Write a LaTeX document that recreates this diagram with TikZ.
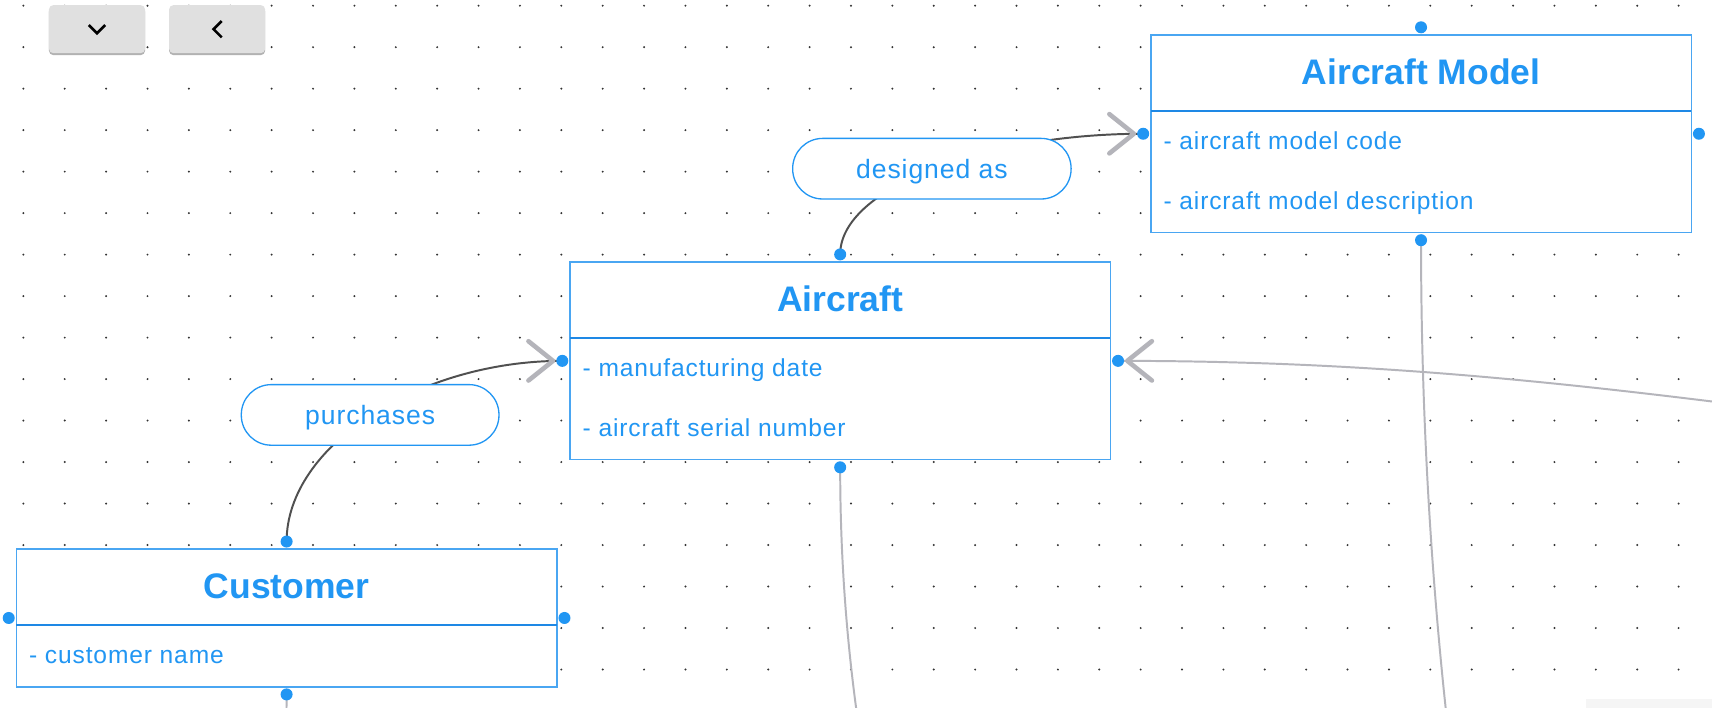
\documentclass[tikz,border=0pt]{standalone}
\usepackage{fontspec}
\setmainfont{Liberation Sans}
\newfontfamily\spacedfont[LetterSpace=3.5]{Liberation Sans}
\usetikzlibrary{shadows}
\definecolor{mblue}{HTML}{2196F3}
\definecolor{bordblue}{HTML}{4AA6F2}
\definecolor{divblue}{HTML}{1E88E5}
\definecolor{darkline}{HTML}{505050}
\definecolor{lightline}{HTML}{B5B5BB}
\definecolor{chevgray}{HTML}{B4B4BA}
\definecolor{btngray}{HTML}{E0E0E0}
\definecolor{griddot}{HTML}{333333}
\definecolor{cornergray}{HTML}{F5F5F5}
\pgfdeclarelayer{bg}
\pgfdeclarelayer{lines}
\pgfsetlayers{bg,lines,main}
\begin{document}
\begin{tikzpicture}[x=1pt,y=-1pt,
  entity/.style={draw=bordblue,line width=1.4pt,fill=white,rectangle,inner sep=0pt,outer sep=0pt,minimum width=495pt},
  divider/.style={draw=divblue,line width=1.4pt},
  title/.style={text=mblue,font=\bfseries\fontsize{32.5}{39}\selectfont,inner sep=0pt,anchor=base},
  attr/.style={text=mblue,font=\spacedfont\fontsize{22.5}{27}\selectfont,inner sep=0pt,anchor=base west},
  pill/.style={draw=mblue,line width=1.2pt,fill=white,rectangle,rounded corners=27.5pt,minimum height=55.5pt,inner sep=0pt,text=mblue,font=\spacedfont\fontsize{24.3}{29}\selectfont,text height=18pt,text depth=0pt},
  port/.style={circle,fill=mblue,inner sep=0pt,minimum size=11pt},
  rel/.style={draw=darkline,line width=1.8pt},
  ghost/.style={draw=lightline,line width=1.8pt},
  chev/.style={draw=chevgray,line width=4.2pt,line cap=round,line join=round},
  btn/.style={fill=btngray,rectangle,rounded corners=4pt,minimum width=88pt,minimum height=44pt,inner sep=0pt,drop shadow={shadow xshift=0pt,shadow yshift=-1.8pt,opacity=0.3,fill=black}},
  icon/.style={draw=black,line width=2.4pt}
]
\useasboundingbox (0,0) rectangle (1568,648.4);

% background and dot grid
\begin{pgfonlayer}{bg}
  \fill[white] (0,0) rectangle (1568,648.4);
  \foreach \i in {0,...,40}{\foreach \j in {0,...,16}{
    \fill[griddot] ({21.4+37.9*\i},{5.2+38*\j}) circle (1pt);}}
\end{pgfonlayer}

% toolbar buttons
\node[btn] (btn-down) at (88.85,26.7) {};
\draw[icon] ([xshift=-7.5pt,yshift=3.7pt]btn-down.center) -- ([yshift=-3.8pt]btn-down.center) -- ([xshift=7.5pt,yshift=3.7pt]btn-down.center);
\node[btn] (btn-left) at (198.85,26.7) {};
\draw[icon] ([xshift=4.2pt,yshift=7.5pt]btn-left.center) -- ([xshift=-3.3pt]btn-left.center) -- ([xshift=4.2pt,yshift=-7.5pt]btn-left.center);

% entities
\node[entity,minimum height=181pt] (model) at (1301.5,122.5) {};
\draw[divider] ([yshift=-69.5pt]model.north west) -- ([yshift=-69.5pt]model.north east);
\node[title] (model-title) at ([yshift=-45pt]model.north) {Aircraft Model};
\node[attr] (model-code) at ([xshift=11.5pt,yshift=-104.5pt]model.north west) {- aircraft model code};
\node[attr] (model-desc) at ([xshift=11.5pt,yshift=-160pt]model.north west) {- aircraft model description};

\node[entity,minimum height=181pt] (aircraft) at (769.5,330.5) {};
\draw[divider] ([yshift=-69.5pt]aircraft.north west) -- ([yshift=-69.5pt]aircraft.north east);
\node[title] (aircraft-title) at ([yshift=-45pt]aircraft.north) {Aircraft};
\node[attr] (aircraft-date) at ([xshift=11.5pt,yshift=-104.5pt]aircraft.north west) {- manufacturing date};
\node[attr] (aircraft-serial) at ([xshift=11.5pt,yshift=-160pt]aircraft.north west) {- aircraft serial number};

\node[entity,minimum height=126pt] (customer) at (262.5,566) {};
\draw[divider] ([yshift=-69.5pt]customer.north west) -- ([yshift=-69.5pt]customer.north east);
\node[title] (customer-title) at ([yshift=-45pt]customer.north) {Customer};
\node[attr] (customer-name) at ([xshift=11.5pt,yshift=-104.5pt]customer.north west) {- customer name};

% relationship labels
\node[pill,minimum width=255pt] (designed) at (853.5,154.5) {designed as};
\node[pill,minimum width=236pt] (purchases) at (339,380) {purchases};

% ports
\foreach \e in {model,aircraft,customer}{
  \node[port] (\e-n) at ([yshift=7pt]\e.north) {};
  \node[port] (\e-s) at ([yshift=-7pt]\e.south) {};
  \node[port] (\e-w) at ([xshift=-7pt]\e.west) {};
  \node[port] (\e-e) at ([xshift=7pt]\e.east) {};
}

% connectors
\coordinate (far-e) at (1800,398);
\coordinate (far-as) at (803,760);
\coordinate (far-ms) at (1337.5,760);
\coordinate (far-cs) at (262,700);
\begin{pgfonlayer}{lines}
  \draw[rel] (aircraft-n.center) .. controls ([yshift=61pt]aircraft-n.center) and ([xshift=-145pt]model-w.center) .. (model-w.center);
  \draw[chev] ([xshift=-31pt,yshift=18pt]model-w.center) -- ([xshift=-8.5pt]model-w.center) -- ([xshift=-31pt,yshift=-18pt]model-w.center);
  \draw[rel] (customer-n.center) .. controls ([yshift=88pt]customer-n.center) and ([xshift=-131pt]aircraft-w.center) .. (aircraft-w.center);
  \draw[chev] ([xshift=-31pt,yshift=18pt]aircraft-w.center) -- ([xshift=-8.5pt]aircraft-w.center) -- ([xshift=-31pt,yshift=-18pt]aircraft-w.center);
  \draw[ghost] (far-e) .. controls (1500,358) and ([xshift=276pt]aircraft-e.center) .. (aircraft-e.center);
  \draw[chev] ([xshift=31pt,yshift=18pt]aircraft-e.center) -- ([xshift=8.5pt]aircraft-e.center) -- ([xshift=31pt,yshift=-18pt]aircraft-e.center);
  \draw[ghost] (aircraft-s.center) .. controls ([yshift=-110.7pt]aircraft-s.center) and (780.3,649.3) .. (far-as);
  \draw[ghost] (model-s.center) .. controls ([yshift=-180pt]model-s.center) and (1313.2,580) .. (far-ms);
  \draw[ghost] (customer-s.center) -- (far-cs);
\end{pgfonlayer}

% corner overlay
\fill[cornergray] (1453,640) rectangle (1568,648.4);
\end{tikzpicture}
\end{document}
